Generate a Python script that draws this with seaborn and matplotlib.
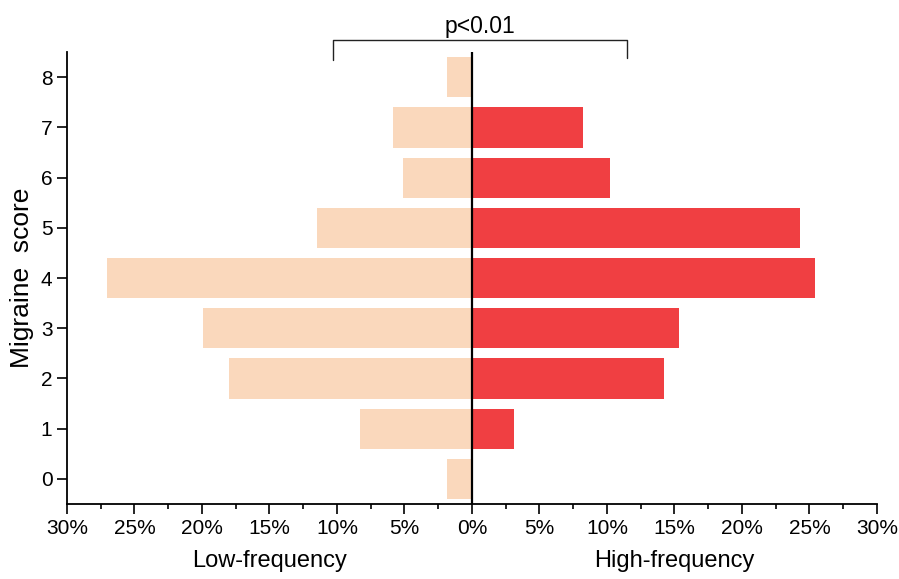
import matplotlib
matplotlib.use("Agg")
import matplotlib.pyplot as plt
import matplotlib.transforms as mtransforms
from matplotlib.ticker import MultipleLocator, FuncFormatter
import pandas as pd
import seaborn as sns

# Migraine score distribution (% of patients) by headache frequency group
scores = [0, 1, 2, 3, 4, 5, 6, 7, 8]
low_frequency = [1.85, 8.3, 18.0, 19.9, 27.0, 11.5, 5.1, 5.85, 1.85]
high_frequency = [0.0, 3.1, 14.2, 15.3, 25.4, 24.3, 10.2, 8.2, 0.0]

low_color = "#FAD8BC"
high_color = "#F03F42"

sns.set_style("ticks")
plt.rcParams["font.family"] = ["Liberation Sans", "DejaVu Sans"]
plt.rcParams["text.color"] = "black"
plt.rcParams["axes.labelcolor"] = "black"

df = pd.DataFrame({
    "score": scores,
    "low": [-v for v in low_frequency],
    "high": high_frequency,
})

fig = plt.figure(figsize=(8.99, 5.79), dpi=100)
ax = fig.add_axes([0.0745, 0.1295, 0.901, 0.7805])

sns.barplot(data=df, x="low", y="score", orient="h", native_scale=True,
            color=low_color, saturation=1, width=0.8, ax=ax, linewidth=0)
sns.barplot(data=df, x="high", y="score", orient="h", native_scale=True,
            color=high_color, saturation=1, width=0.8, ax=ax, linewidth=0)

ax.set_xlim(-30, 30)
ax.set_ylim(-0.5, 8.5)

# centre divider
ax.axvline(0, color="black", lw=1.6, zorder=5)

ax.xaxis.set_major_locator(MultipleLocator(5))
ax.xaxis.set_minor_locator(MultipleLocator(2.5))
ax.xaxis.set_major_formatter(FuncFormatter(lambda v, _: f"{abs(v):.0f}%"))
ax.yaxis.set_major_locator(MultipleLocator(1))

ax.tick_params(axis="both", which="major", length=7, width=1.2,
               labelsize=15, color="black", labelcolor="black", pad=3.5)
ax.tick_params(axis="x", which="minor", length=3.5, width=1.2, color="black")
ax.tick_params(axis="y", which="minor", left=False)

sns.despine(ax=ax)
for side in ("left", "bottom"):
    ax.spines[side].set_linewidth(1.3)
    ax.spines[side].set_color("black")

ax.set_xlabel("")
ax.set_ylabel("Migraine  score", fontsize=19, labelpad=5)

# group labels beneath each half of the axis
blend = mtransforms.blended_transform_factory(ax.transData, fig.transFigure)
ax.text(-15, 0.021, "Low-frequency", transform=blend, ha="center",
        va="baseline", fontsize=17)
ax.text(15, 0.021, "High-frequency", transform=blend, ha="center",
        va="baseline", fontsize=17)

# significance bracket
bx0, bx1 = -10.3, 11.5
ax.plot([bx0, bx0, bx1, bx1], [8.34, 8.74, 8.74, 8.38], color="#222222",
        lw=1.0, clip_on=False)
ax.text((bx0 + bx1) / 2, 8.88, "p<0.01", ha="center", va="baseline",
        fontsize=16.5)

fig.savefig("out.png", dpi=100)
